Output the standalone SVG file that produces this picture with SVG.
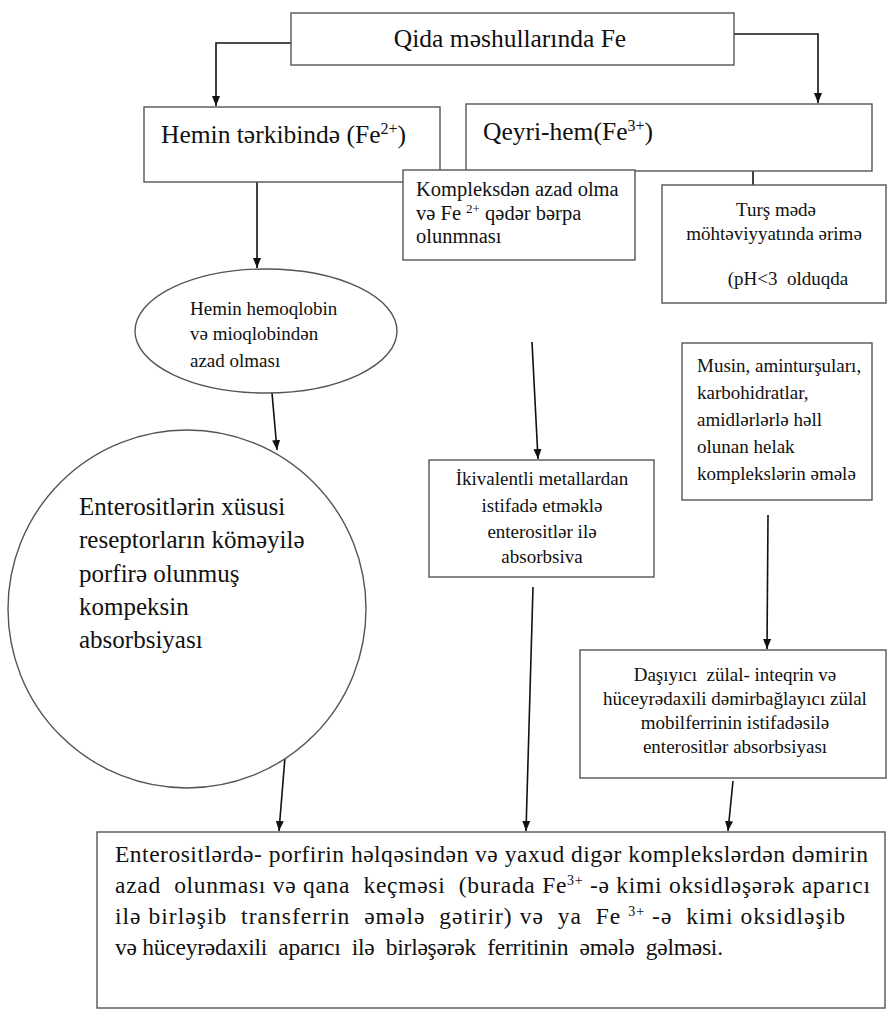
<svg xmlns="http://www.w3.org/2000/svg" width="891" height="1019" viewBox="0 0 891 1019">
<style>
text{font-family:"Liberation Serif","Times New Roman",serif;fill:#111}
.box{fill:#fff;stroke:#555;stroke-width:1.4}
.c{fill:none;stroke:#111;stroke-width:1.6}
.big{font-size:25.5px}
.circ{font-size:25px}
.sm{font-size:19px}
.mid{text-anchor:middle}
.bt{font-size:23.5px}
</style>
<defs>
<marker id="ah" markerUnits="userSpaceOnUse" markerWidth="10" markerHeight="10" refX="10" refY="4" orient="auto">
<path d="M0,0 L10,4 L0,8 z" fill="#111"/>
</marker>
</defs>
<rect width="891" height="1019" fill="#fff"/>

<g id="connectors">
<path class="c" d="M291,43 H216 V106" marker-end="url(#ah)"/>
<path class="c" d="M734,34 H818 V103" marker-end="url(#ah)"/>
<path class="c" d="M753,171 V185"/>
<path class="c" d="M257,182 L257,268" marker-end="url(#ah)"/>
<path class="c" d="M272,393 L277,450" marker-end="url(#ah)"/>
<path class="c" d="M532,342 L538,459" marker-end="url(#ah)"/>
<path class="c" d="M768,515 L767,649" marker-end="url(#ah)"/>
<path class="c" d="M285,757 L279,831" marker-end="url(#ah)"/>
<path class="c" d="M533,587 L526,831" marker-end="url(#ah)"/>
<path class="c" d="M733,781 L728,831" marker-end="url(#ah)"/>
</g>

<g id="n-qida">
<rect class="box" x="291" y="13" width="443" height="52"/>
<text class="big mid" x="510" y="47">Qida məshullarında Fe</text>
</g>

<g id="n-hemin">
<rect class="box" x="144" y="107" width="296" height="75"/>
<text class="big" x="161" y="143">Hemin tərkibində (Fe<tspan dy="-9" font-size="16">2+</tspan><tspan dy="9">)</tspan></text>
</g>

<g id="n-qeyri">
<rect class="box" x="466" y="104" width="406" height="67"/>
<text class="big" x="483" y="140">Qeyri-hem(Fe<tspan dy="-9" font-size="16">3+</tspan><tspan dy="9">)</tspan></text>
</g>

<g id="n-kompleks">
<rect class="box" x="403" y="170" width="232" height="90"/>
<text font-size="20.5" x="416" y="196">Kompleksdən azad olma</text>
<text font-size="20.5" x="416" y="220">və Fe <tspan dy="-7" font-size="13">2+</tspan><tspan dy="7"> qədər bərpa</tspan></text>
<text font-size="20.5" x="416" y="243">olunmnası</text>
</g>

<g id="n-turs">
<rect class="box" x="662" y="185" width="224" height="118"/>
<text class="sm mid" x="776" y="216">Turş mədə</text>
<text class="sm mid" x="774" y="240">möhtəviyyatında ərimə</text>
<text class="sm mid" x="788" y="285" xml:space="preserve">(pH&lt;3  olduqda</text>
</g>

<g id="n-ellipse">
<ellipse class="box" cx="266" cy="331" rx="131" ry="62"/>
<text class="sm" x="190" y="315">Hemin hemoqlobin</text>
<text class="sm" x="190" y="340">və mioqlobindən</text>
<text class="sm" x="190" y="367">azad olması</text>
</g>

<g id="n-circle">
<circle class="box" cx="187" cy="609" r="179"/>
<text class="circ" x="79" y="515">Enterositlərin xüsusi</text>
<text class="circ" x="79" y="548">reseptorların köməyilə</text>
<text class="circ" x="79" y="582">porfirə olunmuş</text>
<text class="circ" x="79" y="615">kompeksin</text>
<text class="circ" x="79" y="648">absorbsiyası</text>
</g>

<g id="n-ikivalent">
<rect class="box" x="429" y="460" width="225" height="117"/>
<text class="sm mid" x="542" y="485">İkivalentli metallardan</text>
<text class="sm mid" x="542" y="512">istifadə etməklə</text>
<text class="sm mid" x="542" y="538">enterositlər ilə</text>
<text class="sm mid" x="542" y="563">absorbsiva</text>
</g>

<g id="n-musin">
<rect class="box" x="682" y="343" width="190" height="157"/>
<text class="sm" x="697" y="372">Musin, aminturşuları,</text>
<text class="sm" x="697" y="399">karbohidratlar,</text>
<text class="sm" x="697" y="426">amidlərlərlə həll</text>
<text class="sm" x="697" y="453">olunan helak</text>
<text class="sm" x="697" y="480">komplekslərin əmələ</text>
</g>

<g id="n-dasiyici">
<rect class="box" x="580" y="650" width="306" height="128"/>
<text class="sm mid" x="735" y="681" xml:space="preserve">Daşıyıcı  zülal- inteqrin və</text>
<text class="sm mid" x="735" y="705">hüceyrədaxili dəmirbağlayıcı zülal</text>
<text class="sm mid" x="735" y="729">mobilferrinin istifadəsilə</text>
<text class="sm mid" x="735" y="753">enterositlər absorbsiyası</text>
</g>

<g id="n-bottom">
<rect class="box" x="97" y="832" width="788" height="176"/>
<text class="bt" x="115" y="862" textLength="753" lengthAdjust="spacing">Enterositlərdə- porfirin həlqəsindən və yaxud digər komplekslərdən dəmirin</text>
<text class="bt" x="115" y="893" textLength="755" lengthAdjust="spacing" xml:space="preserve">azad  olunması və qana  keçməsi  (burada Fe<tspan dy="-8" font-size="14">3+</tspan><tspan dy="8"> -ə kimi oksidləşərək aparıcı</tspan></text>
<text class="bt" x="115" y="924" textLength="730" lengthAdjust="spacing" xml:space="preserve">ilə birləşib  transferrin  əmələ  gətirir) və  ya  Fe <tspan dy="-8" font-size="14">3+</tspan><tspan dy="8"> -ə  kimi oksidləşib</tspan></text>
<text class="bt" x="115" y="955" textLength="608" lengthAdjust="spacing" xml:space="preserve">və hüceyrədaxili  aparıcı  ilə  birləşərək  ferritinin  əmələ  gəlməsi.</text>
</g>
</svg>
